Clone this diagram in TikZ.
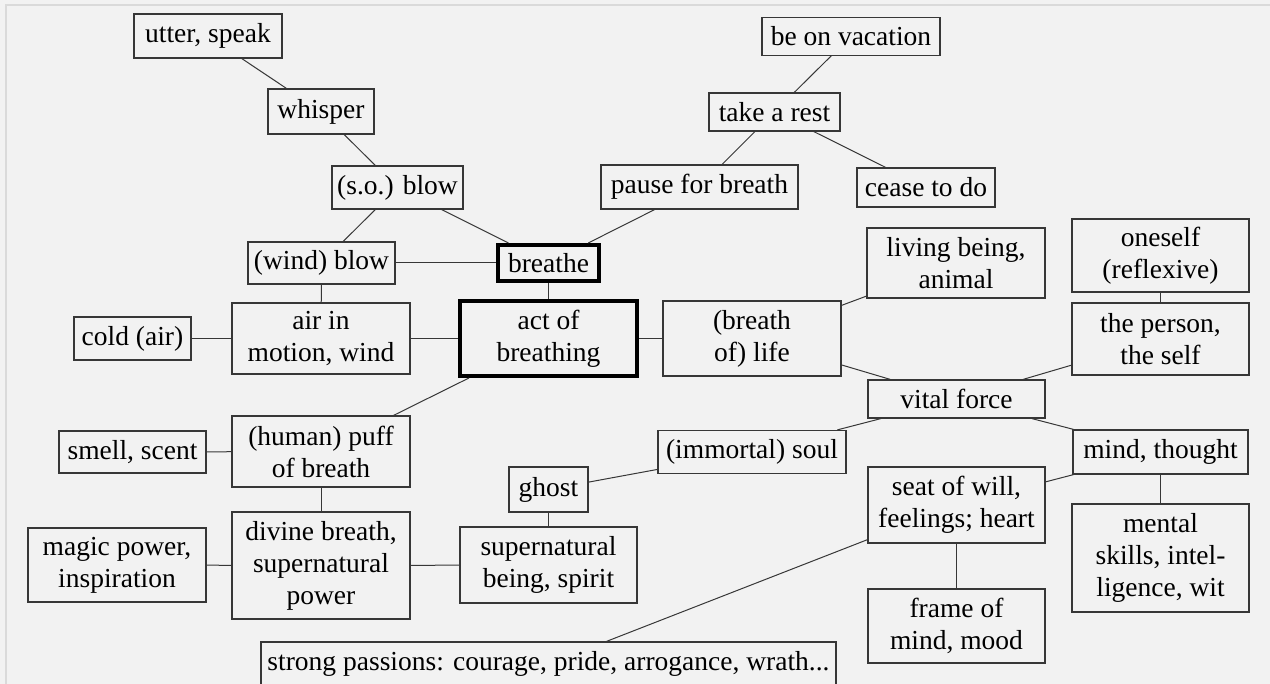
\documentclass[tikz,border=0pt]{standalone}
\usepackage{fontspec}
\setmainfont{Liberation Serif}
\definecolor{mgray}{RGB}{242,242,242}
\definecolor{mframe}{RGB}{218,218,218}
\definecolor{mline}{RGB}{55,55,55}
\tikzset{box/.style = {draw=mline, fill=mgray, line width=1.2pt, inner sep=0,
                       align=center, font=\fontsize{27.5}{32}\selectfont}}
\tikzset{mainbox/.style = {box, draw=black, line width=4pt}}
\tikzset{link/.style = {mline, line width=1pt}}

\begin{document}
\begin{tikzpicture}[x=1pt, y=-1pt]
    \useasboundingbox (0,0) rectangle (1270,684);
    \fill [mgray] (0,0) rectangle (1270,684);
    \draw [mframe, line width=1.5pt] (6,684) -- (6,5) -- (1270,5);
    % left branch
    \node [box, minimum width=148, minimum height=44] (utter) at (208,36) {utter, speak};
    \node [box, minimum width=106, minimum height=45] (whisper) at (321,111.5) {whisper};
    \node [box, minimum width=131, minimum height=43] (soblow) at (397.5,187.5) {(s.o.) blow};
    \node [box, minimum width=147, minimum height=42] (windblow) at (321.5,263) {(wind) blow};
    \node [box, minimum width=178, minimum height=71] (air) at (321,338.5) {air in\\motion, wind};
    \node [box, minimum width=117, minimum height=43] (cold) at (132.5,338.5) {cold (air)};
    \node [box, minimum width=178, minimum height=71] (puff) at (321,451.5) {(human) puff\\of breath};
    \node [box, minimum width=147, minimum height=42] (smell) at (132.5,452) {smell, scent};
    \node [box, minimum width=178, minimum height=107] (divine) at (321,565.5) {divine breath,\\supernatural\\power};
    \node [box, minimum width=178, minimum height=74] (magic) at (117,565) {magic power,\\inspiration};
    % centre
    \node [mainbox, minimum width=101, minimum height=36] (breathe) at (548.5,263) {breathe};
    \node [mainbox, minimum width=177, minimum height=75] (act) at (548.5,338.5) {act of\\breathing};
    \node [box, minimum width=79, minimum height=45] (ghost) at (548.5,489.5) {ghost};
    \node [box, minimum width=177, minimum height=76] (spirit) at (548.5,565) {supernatural\\being, spirit};
    \node [box, minimum width=575, minimum height=44] (passions) at (548.5,664) {strong passions: courage, pride, arrogance, wrath...};
    % upper right
    \node [box, minimum width=178, minimum height=38] (vacation) at (851,36.3) {be on vacation};
    \node [box, minimum width=131, minimum height=38] (rest) at (774.5,112) {take a rest};
    \node [box, minimum width=197, minimum height=44] (pause) at (699.5,187) {pause for breath};
    \node [box, minimum width=138, minimum height=39] (cease) at (926,187.5) {cease to do};
    % right branch
    \node [box, minimum width=178, minimum height=75] (life) at (752,338.5) {(breath\\of) life};
    \node [box, minimum width=178, minimum height=70] (living) at (956,263) {living being,\\animal};
    \node [box, minimum width=177, minimum height=73] (oneself) at (1160.5,255.5) {oneself\\(reflexive)};
    \node [box, minimum width=177, minimum height=72] (person) at (1160.5,339) {the person,\\the self};
    \node [box, minimum width=177, minimum height=38] (vital) at (956.5,399) {vital force};
    \node [box, minimum width=188, minimum height=43] (soul) at (752,452) {(immortal) soul};
    \node [box, minimum width=175, minimum height=44] (mind) at (1160.5,452) {mind, thought};
    \node [box, minimum width=177, minimum height=76] (seat) at (956.5,505) {seat of will,\\feelings; heart};
    \node [box, minimum width=177, minimum height=108] (mental) at (1160.5,558) {mental\\skills, intel-\\ligence, wit};
    \node [box, minimum width=177, minimum height=74] (frame) at (956.5,626) {frame of\\mind, mood};
    % connections
    \foreach \a/\b in {utter/whisper, whisper/soblow, soblow/windblow, soblow/breathe,
                       windblow/breathe, windblow/air, breathe/act, pause/breathe,
                       rest/pause, vacation/rest, rest/cease, act/air, air/cold,
                       act/life, act/puff, puff/smell, puff/divine, divine/magic,
                       divine/spirit, spirit/ghost, ghost/soul, soul/vital,
                       life/living, life/vital, vital/person, person/oneself,
                       vital/mind, mind/seat, mind/mental, seat/frame, seat/passions} {
      \draw [link] (\a) -- (\b);
    }
\end{tikzpicture}
\end{document}
